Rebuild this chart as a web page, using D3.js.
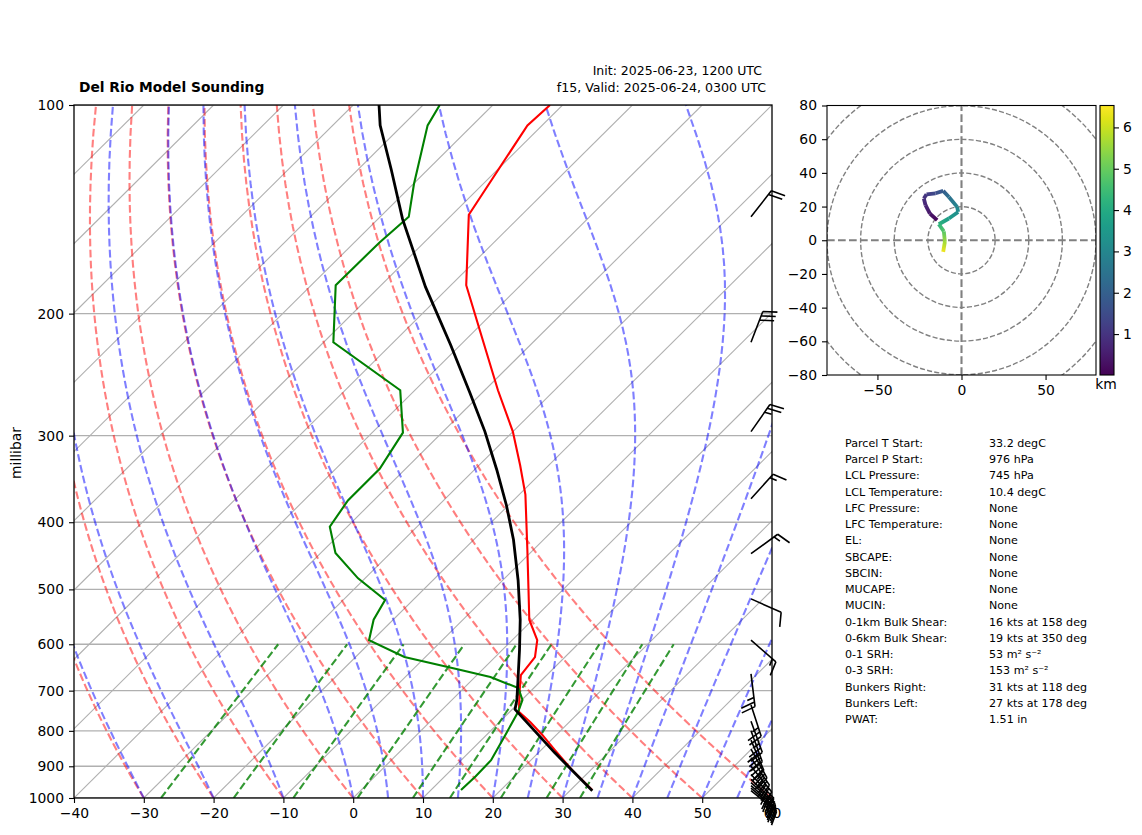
<!DOCTYPE html>
<html>
<head>
<meta charset="utf-8">
<script src="https://d3js.org/d3.v7.min.js"></script>
<style>
body { margin: 0; background: #fff; }
text { font-family: "DejaVu Sans", sans-serif; fill: #000; }
</style>
</head>
<body>
<script>
/* sounding profiles: hPa and degC */
var tempP = [100,107,144,182,220,258,296,331,365,439,501,553,592,626,665,699,751,777,811,853,911,974];
var tempT = [-71.8,-72.1,-67.6,-57.8,-47.1,-38.1,-30,-24.1,-19.1,-10.8,-4.9,-0.5,3.6,5.7,6.3,8.3,11.3,14.4,18,22,27.3,33.1];
var dewP = [100,107,130,145,158,182,220,258,297,335,372,406,443,482,518,553,592,626,651,669,694,722,751,811,882,930,974];
var dewT = [-87.6,-86.4,-79.9,-75.9,-76.4,-76.5,-68.6,-52.1,-45.6,-43.7,-43.7,-42.5,-37.9,-31,-24,-22.8,-20.5,-13,-4,2.2,7.8,10.1,11.2,12.7,14.3,14.4,14.3];
var parcelP = [100,107,124,146,183,222,260,296,336,378,424,485,553,612,676,722,745,860,976];
var parcelT = [-96.3,-93.2,-85.2,-76.5,-63.4,-51.4,-41.8,-34,-26.8,-20.3,-14.3,-7.8,-1.8,2.5,6.6,9.3,10.4,22.3,33.2];

/* wind barbs */
var barbP = [145,220,296,370,444,516,592,662,734,775,800,825,850,875,900,925,940,950,960,968,976];
var barbSpd = [20,30,25,15,15,10,15,25,25,25,30,30,30,35,35,30,30,30,25,25,20];
var barbDir = [38,21,35,42,54,114,131,173,162,160,160,157,151,146,141,136,134,132,131,130,129];

/* hodograph */
var hodoU = [-14.5,-18.8,-21.4,-22.4,-20.8,-15.4,-10.9,-7.5,-2.6,-2,-7.5,-13.5,-10.5,-9.9,-10.9];
var hodoV = [11.9,15.8,20.8,24.8,27.3,27.9,29.3,25.7,19.8,16.8,12.9,9.5,5.3,-1,-6.9];
var hodoH = [0.1,0.4,0.7,0.9,1.1,1.5,1.9,2.4,3,3.2,3.6,4.2,4.8,5.6,6.4];
var hodoRings = [20,40,60,80,100];
var hodoXTicks = [-50,0,50];
var hodoYTicks = [-80,-60,-40,-20,0,20,40,60,80];
var cbarTicks = [1,2,3,4,5,6];

/* background line levels */
var pressTicks = [100,200,300,400,500,600,700,800,900,1000];
var tempTicks = [-40,-30,-20,-10,0,10,20,30,40,50,60];
var isotherms = d3.range(-130, 70, 10);
var dryLevels = d3.range(-40, 70, 10);
var moistLevels = [-30,-20,-10,0,5,10,15,20,25,30,35,40,45,50,55];
var mixingRatios = [0.0004,0.001,0.002,0.004,0.007,0.01,0.016,0.024,0.032];

/* parameter table */
var tableNames = ["Parcel T Start:","Parcel P Start:","LCL Pressure:","LCL Temperature:","LFC Pressure:","LFC Temperature:","EL:","SBCAPE:","SBCIN:","MUCAPE:","MUCIN:","0-1km Bulk Shear:","0-6km Bulk Shear:","0-1 SRH:","0-3 SRH:","Bunkers Right:","Bunkers Left:","PWAT:"];
var tableValues = ["33.2 degC","976 hPa","745 hPa","10.4 degC","None","None","None","None","None","None","None","16 kts at 158 deg","19 kts at 350 deg","53 m\u00b2 s\u207b\u00b2","153 m\u00b2 s\u207b\u00b2","31 kts at 118 deg","27 kts at 178 deg","1.51 in"];

var svg = d3.select("body").append("svg").attr("width", 1142).attr("height", 835);
var defs = svg.append("defs");

/* ---- skew-T ---- */
var left = 74, right = 772, top0 = 105, bottom = 798;
var x = d3.scaleLinear().domain([-40, 60]).range([left, right]);
var y = d3.scaleLog().domain([1000, 100]).range([bottom, top0]);
var skew = (right - left) / (bottom - top0);
function sx(t, p) { return x(t) + skew * (bottom - y(p)); }

defs.append("clipPath").attr("id", "plotclip").append("rect")
    .attr("x", left).attr("y", top0).attr("width", right - left).attr("height", bottom - top0);

var plot = svg.append("g").attr("clip-path", "url(#plotclip)");
var fullP = d3.range(1000, 95, -10);
var line = d3.line().x(function(d) { return sx(d[0], d[1]); }).y(function(d) { return y(d[1]); });

function drawLine(pts, color, width, opacity, dashed) {
  var l = plot.append("path").attr("d", line(pts)).attr("fill", "none")
      .attr("stroke", color).attr("stroke-width", width).attr("stroke-opacity", opacity);
  if (dashed) l.attr("stroke-dasharray", "7.7,3.3");
  return l;
}

pressTicks.forEach(function(p) {
  plot.append("line").attr("x1", left).attr("x2", right).attr("y1", y(p)).attr("y2", y(p))
      .attr("stroke", "#b0b0b0").attr("stroke-width", 1.4);
});
isotherms.forEach(function(t) {
  drawLine([[t, 1000], [t, 100]], "#b0b0b0", 1.1, 1, false);
});

/* dry adiabats */
dryLevels.forEach(function(t0) {
  var pts = fullP.map(function(p) { return [(t0 + 273.15) * Math.pow(p / 1000, 0.2857) - 273.15, p]; });
  drawLine(pts, "#ff0000", 2.1, 0.5, true);
});

/* moist adiabats, stepped up from 1000 hPa */
function satMix(tk, p) {
  var tc = tk - 273.15;
  var es = 6.112 * Math.exp(17.67 * tc / (tc + 243.5));
  return 0.622 * es / (p - es);
}
function moistSlope(tk, p) {
  var rs = satMix(tk, p), lv = 2.5e6;
  return (287 * tk + lv * rs) / (1005 + lv * lv * rs * 0.622 / (287 * tk * tk));
}
moistLevels.forEach(function(t0) {
  var tk = t0 + 273.15, pts = [[t0, 1000]];
  fullP.slice(1).forEach(function(p, i) {
    var p0 = fullP[i], dl = Math.log(p / p0);
    var k1 = moistSlope(tk, p0);
    var k2 = moistSlope(tk + k1 * dl, p);
    tk = tk + 0.5 * (k1 + k2) * dl;
    pts.push([tk - 273.15, p]);
  });
  drawLine(pts, "#0000ff", 2.1, 0.5, true);
});

/* mixing ratio lines */
var mixP = d3.range(1000, 590, -25);
mixingRatios.forEach(function(w) {
  var pts = mixP.map(function(p) {
    var l = Math.log((p * w / (0.622 + w)) / 6.112);
    return [243.5 * l / (17.67 - l), p];
  });
  drawLine(pts, "#008000", 2.1, 0.8, true);
});

/* profiles */
function zipProfile(ps, ts) { return ps.map(function(p, i) { return [ts[i], p]; }); }
drawLine(zipProfile(tempP, tempT), "#ff0000", 2.1, 1, false);
drawLine(zipProfile(dewP, dewT), "#008000", 2.1, 1, false);
drawLine(zipProfile(parcelP, parcelT), "#000000", 2.8, 1, false);

/* axes */
var xAxis = svg.append("g").attr("transform", "translate(0," + bottom + ")")
    .call(d3.axisBottom(x).tickValues(tempTicks).tickSize(5).tickPadding(5));
var yAxis = svg.append("g").attr("transform", "translate(" + left + ",0)")
    .call(d3.axisLeft(y).tickValues(pressTicks).tickFormat(d3.format("d")).tickSize(5).tickPadding(5));
xAxis.selectAll(".domain").remove();
yAxis.selectAll(".domain").remove();
svg.append("rect").attr("x", left).attr("y", top0).attr("width", right - left).attr("height", bottom - top0)
    .attr("fill", "none").attr("stroke", "#000").attr("stroke-width", 1.3);

svg.append("text").attr("transform", "translate(21,453) rotate(-90)")
    .attr("text-anchor", "middle").style("font-size", "13.9px").text("millibar");
svg.append("text").attr("x", 79).attr("y", 92).style("font-size", "13.8px").style("font-weight", "bold")
    .text("Del Rio Model Sounding");
svg.append("text").attr("x", 762).attr("y", 74.5).attr("text-anchor", "end").style("font-size", "12.5px")
    .text("Init: 2025-06-23, 1200 UTC");
svg.append("text").attr("x", 766).attr("y", 92).attr("text-anchor", "end").style("font-size", "12.6px")
    .text("f15, Valid: 2025-06-24, 0300 UTC");

/* wind barbs, drawn past the axes so no clip here */
var barbX = 751, barbLen = 33;
var barbs = svg.append("g").attr("fill", "none").attr("stroke", "#000").attr("stroke-width", 1.6);
barbP.forEach(function(p, i) {
  var a = barbDir[i] * Math.PI / 180;
  var ux = Math.sin(a), uy = -Math.cos(a);   // staff points where the wind comes from
  var nx = -uy, ny = ux;                     // ticks sit on the clockwise side
  var bx = barbX, by = y(p);
  var tx = bx + ux * barbLen, ty = by + uy * barbLen;
  var path = d3.path();
  path.moveTo(bx, by);
  path.lineTo(tx, ty);
  var spd = barbSpd[i], pos = 0, h = barbLen * 0.42, w = barbLen * 0.14, sp = barbLen * 0.14;
  while (spd >= 10) {
    var ax = tx - ux * pos, ay = ty - uy * pos;
    path.moveTo(ax, ay);
    path.lineTo(ax + nx * h + ux * w, ay + ny * h + uy * w);
    pos += sp;
    spd -= 10;
  }
  if (spd >= 5) {
    var cx = tx - ux * pos, cy = ty - uy * pos;
    path.moveTo(cx, cy);
    path.lineTo(cx + nx * h / 2 + ux * w / 2, cy + ny * h / 2 + uy * w / 2);
  }
  barbs.append("path").attr("d", path.toString());
});

/* ---- hodograph ---- */
var hx = d3.scaleLinear().domain([-80, 80]).range([827, 1096]);
var hy = d3.scaleLinear().domain([-80, 80]).range([375, 105.5]);
defs.append("clipPath").attr("id", "hodoclip").append("rect")
    .attr("x", 827).attr("y", 105.5).attr("width", 269).attr("height", 269.5);
var hodo = svg.append("g").attr("clip-path", "url(#hodoclip)");

hodoRings.forEach(function(r) {
  hodo.append("circle").attr("cx", hx(0)).attr("cy", hy(0)).attr("r", hx(r) - hx(0))
      .attr("fill", "none").attr("stroke", "#808080").attr("stroke-width", 1.4).attr("stroke-dasharray", "5.1,2.2");
});
hodo.append("line").attr("x1", hx(-80)).attr("x2", hx(80)).attr("y1", hy(0)).attr("y2", hy(0))
    .attr("stroke", "#808080").attr("stroke-width", 2.1).attr("stroke-dasharray", "7.7,3.3");
hodo.append("line").attr("x1", hx(0)).attr("x2", hx(0)).attr("y1", hy(-80)).attr("y2", hy(80))
    .attr("stroke", "#808080").attr("stroke-width", 2.1).attr("stroke-dasharray", "7.7,3.3");

var hColor = d3.scaleSequential(d3.interpolateViridis).domain([0.01, 6.53]);
d3.range(hodoU.length - 1).forEach(function(i) {
  var gid = "seg" + i;
  var g = defs.append("linearGradient").attr("id", gid).attr("gradientUnits", "userSpaceOnUse")
      .attr("x1", hx(hodoU[i])).attr("y1", hy(hodoV[i]))
      .attr("x2", hx(hodoU[i + 1])).attr("y2", hy(hodoV[i + 1]));
  g.append("stop").attr("offset", "0%").attr("stop-color", hColor(hodoH[i]));
  g.append("stop").attr("offset", "100%").attr("stop-color", hColor(hodoH[i + 1]));
  hodo.append("line").attr("x1", hx(hodoU[i])).attr("y1", hy(hodoV[i]))
      .attr("x2", hx(hodoU[i + 1]) + 0.01).attr("y2", hy(hodoV[i + 1]) + 0.01)
      .attr("stroke", "url(#" + gid + ")").attr("stroke-width", 3.8);
});

var hxAxis = svg.append("g").attr("transform", "translate(0,375)")
    .call(d3.axisBottom(hx).tickValues(hodoXTicks).tickSize(5).tickPadding(5));
var hyAxis = svg.append("g").attr("transform", "translate(827,0)")
    .call(d3.axisLeft(hy).tickValues(hodoYTicks).tickSize(5).tickPadding(5));
hxAxis.selectAll(".domain").remove();
hyAxis.selectAll(".domain").remove();
svg.append("rect").attr("x", 827).attr("y", 105.5).attr("width", 269).attr("height", 269.5)
    .attr("fill", "none").attr("stroke", "#000").attr("stroke-width", 1.1);

/* colorbar */
var cb = d3.scaleLinear().domain([0.01, 6.53]).range([375, 105.5]);
var cg = defs.append("linearGradient").attr("id", "cbar").attr("x1", 0).attr("y1", 1).attr("x2", 0).attr("y2", 0);
d3.range(0, 1.01, 0.05).forEach(function(t) {
  cg.append("stop").attr("offset", t).attr("stop-color", d3.interpolateViridis(t));
});
svg.append("rect").attr("x", 1100).attr("y", 105.5).attr("width", 14).attr("height", 269.5)
    .attr("fill", "url(#cbar)").attr("stroke", "#000").attr("stroke-width", 1.1);
var cAxis = svg.append("g").attr("transform", "translate(1114,0)")
    .call(d3.axisRight(cb).tickValues(cbarTicks).tickSize(5).tickPadding(4).tickFormat(d3.format("d")));
cAxis.selectAll(".domain").remove();
svg.append("text").attr("x", 1106).attr("y", 389).attr("text-anchor", "middle").style("font-size", "13.9px").text("km");

/* restyle all axis text to match */
svg.selectAll(".tick text").style("font-size", "13.9px").style("font-family", '"DejaVu Sans", sans-serif');
svg.selectAll(".tick line").attr("stroke-width", 1.1);

/* ---- table ---- */
var rowY = d3.scaleLinear().domain([0, tableNames.length - 1]).range([447, 723]);
tableNames.forEach(function(name, i) {
  svg.append("text").attr("x", 845).attr("y", rowY(i)).style("font-size", "11.1px").text(name);
  svg.append("text").attr("x", 989).attr("y", rowY(i)).style("font-size", "11.1px").text(tableValues[i]);
});
</script>
</body>
</html>
